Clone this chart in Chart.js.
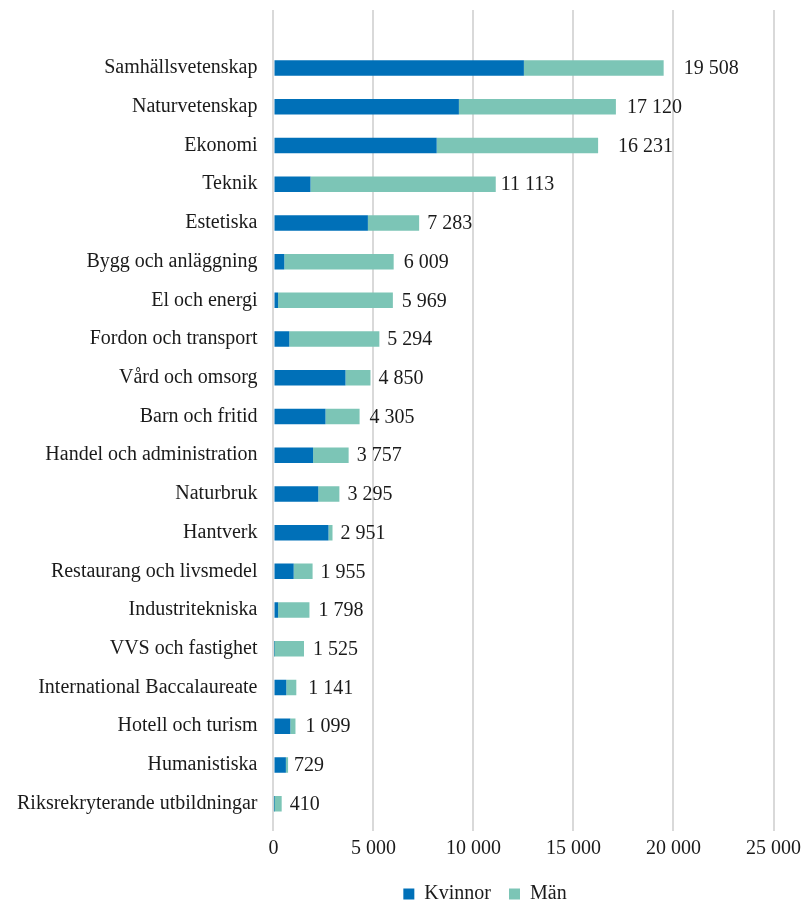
<!DOCTYPE html>
<html>
<head>
<meta charset="utf-8">
<script src="https://cdn.jsdelivr.net/npm/chart.js@4"></script>
<style>
  html, body { margin: 0; padding: 0; background: #fff; }
  #wrap { width: 803px; height: 901px; }
</style>
</head>
<body>
<div id="wrap"><canvas id="utbChart"></canvas></div>
<script>
const categories = ['Samhällsvetenskap', 'Naturvetenskap', 'Ekonomi', 'Teknik', 'Estetiska',
    'Bygg och anläggning', 'El och energi', 'Fordon och transport', 'Vård och omsorg', 'Barn och fritid',
    'Handel och administration', 'Naturbruk', 'Hantverk', 'Restaurang och livsmedel', 'Industritekniska',
    'VVS och fastighet', 'International Baccalaureate', 'Hotell och turism', 'Humanistiska',
    'Riksrekryterande utbildningar'];
const kvinnor = [12520, 9270, 8160, 1850, 4720, 540, 230, 790, 3600, 2600,
    1980, 2240, 2750, 1010, 230, 30, 640, 840, 620, 20];
const man = [6988, 7850, 8071, 9263, 2563, 5469, 5739, 4504, 1250, 1705,
    1777, 1055, 201, 945, 1568, 1495, 501, 259, 109, 390];
const xTicks = [0, 5000, 10000, 15000, 20000, 25000];

// small manual nudges of the total labels, like in the original
const labelNudge = [12, 3, 12, -3, 0, 2, 1, 0, 0, 2, 0, 0, 0, 0, 1, 1, 4, 2, -2, 0];
const legendShift = 83; // legend sits right of centre in the original

const FONT = "'Liberation Serif', 'Times New Roman', serif";
const fmt = v => String(v).replace(/\B(?=(\d{3})+(?!\d))/g, ' ');

const totalLabels = {
    id: 'totalLabels',
    afterLayout(chart) {
        chart.legend.left += legendShift;
        chart.legend.right += legendShift;
    },
    afterDatasetsDraw(chart) {
        const ctx = chart.ctx;
        const meta = chart.getDatasetMeta(1);
        ctx.save();
        ctx.font = '20px ' + FONT;
        ctx.fillStyle = '#1a1a1a';
        ctx.textAlign = 'left';
        ctx.textBaseline = 'middle';
        categories.forEach((c, i) => {
            const bar = meta.data[i + 1];
            const total = kvinnor[i] + man[i];
            ctx.fillText(fmt(total), bar.x + 8 + labelNudge[i], bar.y + 1);
        });
        ctx.restore();
    }
};

const utb = document.getElementById('utbChart').getContext('2d');
const utbChart = new Chart(utb, {
    type: 'bar',
    data: {
        // first empty row leaves room at the top like the original
        labels: [''].concat(categories),
        datasets: [
        {
            label: 'Kvinnor',
            data: [null].concat(kvinnor),
            backgroundColor: '#0070b8',
            barPercentage: 0.4,
            categoryPercentage: 1
        },
        {
            label: 'Män',
            data: [null].concat(man),
            backgroundColor: '#7cc5b6',
            barPercentage: 0.4,
            categoryPercentage: 1
        }
        ]
    },
    options: {
        indexAxis: 'y',
        responsive: true,
        maintainAspectRatio: false,
        animation: false,
        layout: { padding: { top: 10, left: 1, right: 0, bottom: -13 } },
        scales: {
            x: {
                stacked: true,
                min: 0,
                max: 25000,
                afterBuildTicks: axis => { axis.ticks = xTicks.map(v => ({ value: v })); },
                afterFit: axis => {
                    axis.height -= 1;
                    axis.paddingRight = Math.max(0, axis.paddingRight - 4);
                },
                grid: { color: '#d9d9d9', lineWidth: 2, tickLength: 8, drawTicks: true },
                border: { display: false },
                ticks: {
                    color: '#1a1a1a',
                    font: { family: FONT, size: 20 },
                    padding: 6,
                    callback: v => fmt(v)
                }
            },
            y: {
                stacked: true,
                afterFit: axis => { axis.paddingTop = 0; axis.paddingBottom = 0; },
                grid: { display: false, drawTicks: false },
                border: { display: false },
                ticks: {
                    color: '#1a1a1a',
                    font: { family: FONT, size: 20 },
                    padding: 16,
                    autoSkip: false
                }
            }
        },
        plugins: {
            legend: {
                position: 'bottom',
                labels: {
                    color: '#1a1a1a',
                    font: { family: FONT, size: 20 },
                    boxWidth: 11,
                    boxHeight: 11,
                    padding: 18
                }
            },
            tooltip: { enabled: false }
        }
    },
    plugins: [totalLabels]
});
</script>
</body>
</html>
